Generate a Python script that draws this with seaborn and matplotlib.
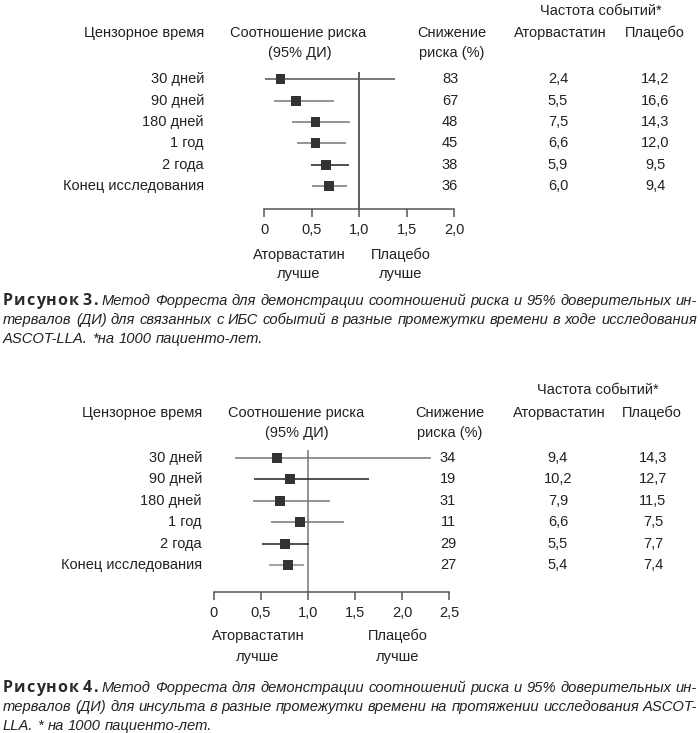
import matplotlib
matplotlib.use("Agg")
import matplotlib.pyplot as plt
import matplotlib.transforms as mtransforms
from matplotlib import font_manager
import seaborn as sns
import pandas as pd

# rows shared by both forest plots
periods = ["30 дней", "90 дней", "180 дней", "1 год", "2 года", "Конец исследования"]

# figure 3: IHD events
hr3 = [0.17, 0.33, 0.54, 0.54, 0.65, 0.68]
lo3 = [0.01, 0.105, 0.29, 0.35, 0.49, 0.50]
hi3 = [1.38, 0.74, 0.90, 0.86, 0.89, 0.87]
rrr3 = ["83", "67", "48", "45", "38", "36"]
ator3 = ["2,4", "5,5", "7,5", "6,6", "5,9", "6,0"]
plac3 = ["14,2", "16,6", "14,3", "12,0", "9,5", "9,4"]
ticks3 = [0, 0.5, 1.0, 1.5, 2.0]
ticklabels3 = ["0", "0,5", "1,0", "1,5", "2,0"]

# figure 4: stroke
hr4 = [0.67, 0.81, 0.70, 0.91, 0.75, 0.79]
lo4 = [0.22, 0.42, 0.41, 0.61, 0.51, 0.58]
hi4 = [2.31, 1.65, 1.23, 1.38, 1.01, 0.96]
rrr4 = ["34", "19", "31", "11", "29", "27"]
ator4 = ["9,4", "10,2", "7,9", "6,6", "5,5", "5,4"]
plac4 = ["14,3", "12,7", "11,5", "7,5", "7,7", "7,4"]
ticks4 = [0, 0.5, 1.0, 1.5, 2.0, 2.5]
ticklabels4 = ["0", "0,5", "1,0", "1,5", "2,0", "2,5"]

caption3 = [
    "Метод Форреста для демонстрации соотношений риска и 95% доверительных ин-",
    "тервалов (ДИ) для связанных с ИБС событий в разные промежутки времени в ходе исследования",
    "ASCOT-LLA. *на 1000 пациенто-лет.",
]
caption4 = [
    "Метод Форреста для демонстрации соотношений риска и 95% доверительных ин-",
    "тервалов (ДИ) для инсульта в разные промежутки времени на протяжении исследования ASCOT-",
    "LLA. * на 1000 пациенто-лет.",
]

sns.set_style("white")
plt.rcParams["font.family"] = ["Liberation Sans", "DejaVu Sans"]

installed = {f.name for f in font_manager.fontManager.ttflist}
if "Liberation Sans Narrow" in installed:
    CAP_FONT = "Liberation Sans Narrow"
elif "DejaVu Sans Condensed" in installed:
    CAP_FONT = "DejaVu Sans Condensed"
else:
    CAP_FONT = "Liberation Sans"
BOLD_FONT = "Open Sans" if "Open Sans" in installed else "DejaVu Sans"

W, H = 700, 733
TXT = "#222222"
FS = 10.5

fig = plt.figure(figsize=(7, 7.33), dpi=100)


def fx(x):
    return x / W


def fy(y):
    return 1 - y / H


def put(x, y, s, ha="center", **kw):
    fig.text(fx(x), fy(y), s, ha=ha, va="center", fontsize=FS, color=TXT, **kw)


def forest(box, ylim, hr, lo, hi, line_cols, vcol, ticks, ticklabels):
    left, right, top, bottom = box
    ax = fig.add_axes([fx(left), fy(bottom), (right - left) / W, (bottom - top) / H])
    df = pd.DataFrame({"hr": hr, "row": range(len(hr))})
    ax.hlines(df["row"], lo, hi, colors=line_cols, lw=1.1, zorder=2)
    sns.scatterplot(data=df, x="hr", y="row", marker="s", s=50, color="#333333",
                    edgecolor="none", zorder=3, ax=ax, legend=False)
    ax.axvline(1.0, color=vcol, lw=1.1, zorder=1)
    ax.set_xlim(ticks[0], ticks[-1])
    ax.set_ylim(*ylim)
    ax.set_xticks(ticks, labels=ticklabels)
    ax.set_yticks([])
    ax.set_xlabel("")
    ax.set_ylabel("")
    for side in ["top", "left", "right"]:
        ax.spines[side].set_visible(False)
    ax.spines["bottom"].set_color("#555555")
    ax.spines["bottom"].set_linewidth(1.1)
    ax.tick_params(axis="x", bottom=True, direction="out", length=6, width=1.1,
                   color="#555555", labelsize=FS, labelcolor=TXT, pad=4)
    ax.patch.set_alpha(0)
    return ax


def table(ax, label_right, cols):
    tr = mtransforms.blended_transform_factory(fig.transFigure, ax.transData)
    for i, p in enumerate(periods):
        fig.text(fx(label_right), i, p, ha="right", va="center", fontsize=FS,
                 color=TXT, transform=tr)
    for xc, vals in cols:
        for i, v in enumerate(vals):
            fig.text(fx(xc), i, v, ha="center", va="center", fontsize=FS,
                     color=TXT, transform=tr)


renderer = fig.canvas.get_renderer()


def width_of(s, **kw):
    t = fig.text(0, 0, s, **kw)
    w = t.get_window_extent(renderer).width
    t.remove()
    return w


TRACK = 1.0  # letter spacing of the bold "Рисунок N." label, px


def tracked_width(s, **kw):
    return sum(width_of(c, **kw) for c in s) + TRACK * (len(s) - 1)


def draw_tracked(x, y, s, **kw):
    for c in s:
        fig.text(fx(x), fy(y), c, ha="left", va="center", **kw)
        x += width_of(c, **kw) + TRACK


def caption(y0, number, lines, x0=3, x1=697, step=19.0):
    bold = dict(fontsize=11.5, fontweight="bold", family=BOLD_FONT, color="#2a2a2a")
    ital = dict(fontsize=10.6, style="italic", family=CAP_FONT, color="#222222")
    for k, line in enumerate(lines):
        y = y0 + k * step
        tokens = [(w, ital, False) for w in line.split(" ")]
        if k == 0:
            tokens = [("Рисунок", bold, True), (number + ".", bold, True)] + tokens
        widths = [tracked_width(s, **p) if tr else width_of(s, **p) for s, p, tr in tokens]
        if k < len(lines) - 1:
            gap = (x1 - x0 - sum(widths)) / (len(tokens) - 1)
        else:
            gap = width_of("a a", **ital) - width_of("aa", **ital)
        x = x0
        for (s, p, tr), w in zip(tokens, widths):
            if tr:
                draw_tracked(x, y, s, **p)
            else:
                fig.text(fx(x), fy(y), s, ha="left", va="center", **p)
            x += w + gap


# ---------- figure 3 ----------
put(601, 11, "Частота событий*")
put(204, 33, "Цензорное время", ha="right")
put(298, 33, "Соотношение риска")
put(300, 53, "(95% ДИ)")
put(452, 33, "Снижение")
put(452, 53, "риска (%)")
put(560, 33, "Аторвастатин")
put(655, 33, "Плацебо")

ax3 = forest((264.3, 454.0, 72, 209), (6.08, -0.34), hr3, lo3, hi3,
             ["#555555", "#777777", "#777777", "#777777", "#222222", "#777777"],
             "#333333", ticks3, ticklabels3)
table(ax3, 204, [(450, rrr3), (558, ator3), (655, plac3)])

put(299, 255, "Аторвастатин")
put(299, 274, "лучше")
put(401, 255, "Плацебо")
put(401, 274, "лучше")

caption(301, "3", caption3)

# ---------- figure 4 ----------
put(598, 390, "Частота событий*")
put(202, 413, "Цензорное время", ha="right")
put(296, 413, "Соотношение риска")
put(297, 433, "(95% ДИ)")
put(450, 413, "Снижение")
put(450, 433, "риска (%)")
put(559, 413, "Аторвастатин")
put(652, 413, "Плацебо")

ax4 = forest((214.0, 449.3, 450, 591.7), (6.23, -0.36), hr4, lo4, hi4,
             ["#777777", "#222222", "#777777", "#777777", "#222222", "#888888"],
             "#777777", ticks4, ticklabels4)
table(ax4, 202, [(448, rrr4), (558, ator4), (653, plac4)])

put(258, 636, "Аторвастатин")
put(258, 657, "лучше")
put(398, 636, "Плацебо")
put(398, 657, "лучше")

caption(688, "4", caption4)

fig.savefig("out.png", dpi=100, facecolor="white")
